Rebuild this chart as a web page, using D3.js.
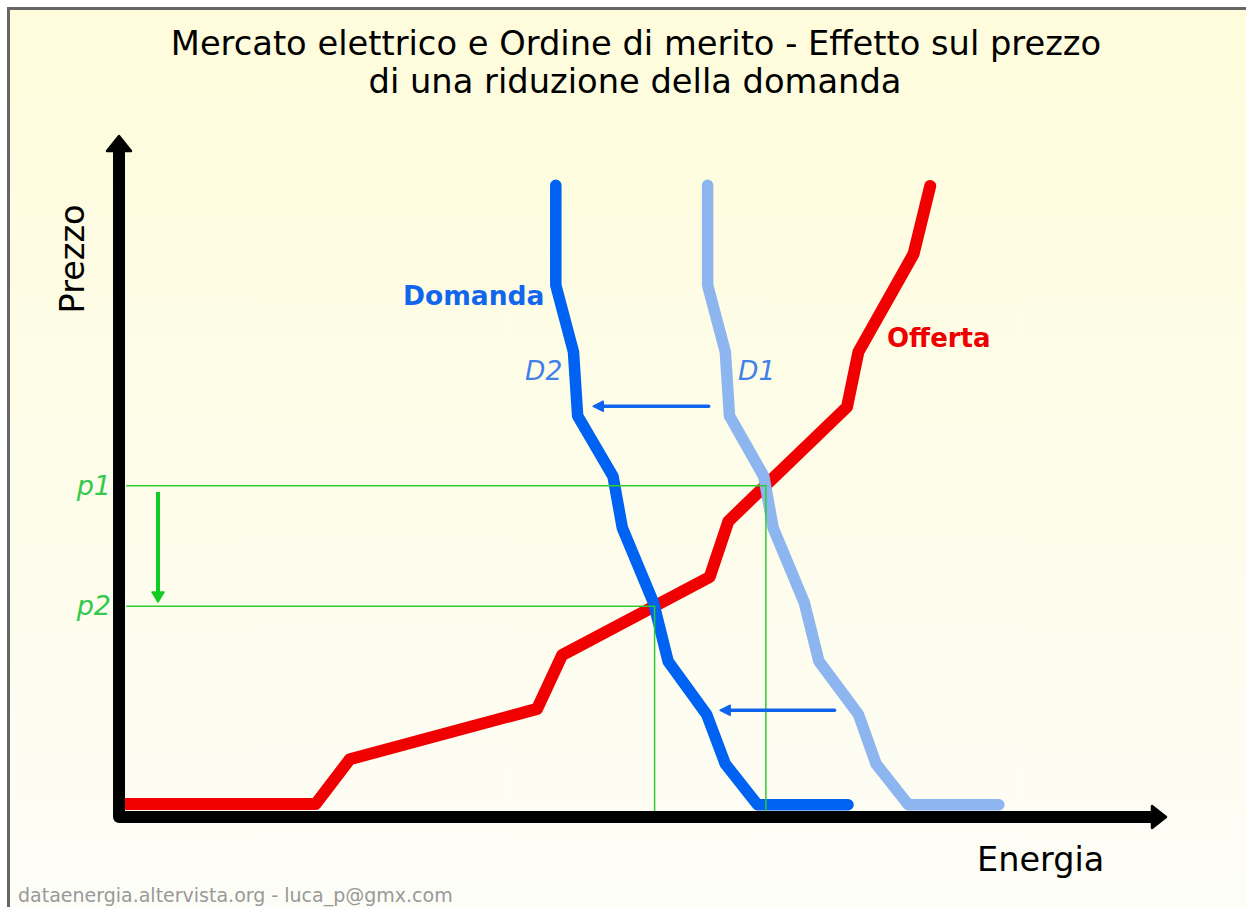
<!DOCTYPE html>
<html>
<head>
<meta charset="utf-8">
<script src="https://cdn.jsdelivr.net/npm/d3@7"></script>
<style>
  html, body { margin: 0; padding: 0; background: #ffffff; }
  svg { display: block; font-family: "DejaVu Sans", sans-serif; }
</style>
</head>
<body>
<svg id="chart" width="1246" height="907"></svg>
<script>
// Supply curve (Offerta): energy quantity and price at each bend
const offerQty   = [0.7, 18.9, 22.2, 40.2, 42.6, 56.8, 58.6, 70.0, 71.1, 76.4, 78.0];
const offerPrice = [1.9, 1.9, 8.5, 15.9, 23.8, 35.3, 43.5, 60.3, 68.4, 82.8, 92.8];

// Demand curves share the same price levels
const demandPrice = [92.9, 78.2, 68.4, 59.0, 50.1, 42.5, 31.5, 22.9, 15.1, 7.8, 1.8, 1.8];
const d1Qty       = [56.6, 56.6, 58.3, 58.7, 62.0, 62.9, 65.9, 67.3, 71.1, 72.8, 75.9, 84.6];
const d2Qty       = [42.0, 42.0, 43.7, 44.1, 47.5, 48.4, 51.4, 52.8, 56.5, 58.3, 61.4, 70.1];

// Market clearing points before (p1) and after (p2) the demand drop
const priceLabels = ["p1", "p2"];
const eqPrice     = [48.7, 31.0];
const eqQty       = [62.2, 51.5];

// Shift arrows between D1 and D2: [price, from quantity, to quantity]
const shiftPrice = [60.4, 15.7];
const shiftFrom  = [56.7, 68.8];
const shiftTo    = [45.6, 57.8];

// Price drop arrow: quantity position and price from -> to
const dropQty   = 3.75;
const dropFrom  = 47.8;
const dropTo    = 31.6;

const svg = d3.select("#chart");
const W = 1246, H = 907;

const x = d3.scaleLinear().domain([0, 100]).range([119, 1159]);
const y = d3.scaleLinear().domain([0, 100]).range([817, 137]);

// Background
const defs = svg.append("defs");
const grad = defs.append("linearGradient").attr("id", "bg").attr("x1", 0).attr("y1", 0).attr("x2", 0).attr("y2", 1);
grad.append("stop").attr("offset", "0%").attr("stop-color", "#fefcdb");
grad.append("stop").attr("offset", "100%").attr("stop-color", "#fdfdf8");
svg.append("rect").attr("x", 0).attr("y", 0).attr("width", W).attr("height", H).attr("fill", "#ffffff");
svg.append("rect").attr("x", 8.5).attr("y", 8.5).attr("width", W + 20).attr("height", H + 20)
  .attr("fill", "url(#bg)").attr("stroke", "#666666").attr("stroke-width", 3);

// Title
const title = svg.append("text").attr("text-anchor", "middle").attr("font-size", 33.7).attr("fill", "#000");
title.append("tspan").attr("x", 636).attr("y", 55).text("Mercato elettrico e Ordine di merito - Effetto sul prezzo");
title.append("tspan").attr("x", 635).attr("y", 93).text("di una riduzione della domanda");

const line = d3.line().x(d => x(d[0])).y(d => y(d[1]));

// Supply curve
svg.append("path")
  .attr("d", line(offerQty.map((q, i) => [q, offerPrice[i]])))
  .attr("fill", "none").attr("stroke", "#f00000").attr("stroke-width", 12)
  .attr("stroke-linejoin", "round").attr("stroke-linecap", "round");

// Demand curves
svg.append("path")
  .attr("d", line(d1Qty.map((q, i) => [q, demandPrice[i]])))
  .attr("fill", "none").attr("stroke", "#8db5f0").attr("stroke-width", 11.5)
  .attr("stroke-linejoin", "round").attr("stroke-linecap", "round");
svg.append("path")
  .attr("d", line(d2Qty.map((q, i) => [q, demandPrice[i]])))
  .attr("fill", "none").attr("stroke", "#0062f2").attr("stroke-width", 11.5)
  .attr("stroke-linejoin", "round").attr("stroke-linecap", "round");

// Equilibrium guide lines
eqPrice.forEach((p, i) => {
  svg.append("path")
    .attr("d", `M${x(0.7)},${y(p)} H${x(eqQty[i])} V${y(0.6)}`)
    .attr("fill", "none").attr("stroke", "#2fcc2f").attr("stroke-width", 1.5);
  svg.append("text")
    .attr("x", x(0) - 8).attr("y", y(p) + 9)
    .attr("text-anchor", "end").attr("font-size", 27).attr("font-style", "italic")
    .attr("fill", "#33c94a").text(priceLabels[i]);
});

// Price drop arrow
{
  const xa = x(dropQty), y0 = y(dropFrom), y1 = y(dropTo);
  svg.append("line").attr("x1", xa).attr("x2", xa).attr("y1", y0).attr("y2", y1 - 8)
    .attr("stroke", "#11cc22").attr("stroke-width", 4);
  svg.append("path")
    .attr("d", `M${xa - 6},${y1 - 10} L${xa + 6},${y1 - 10} L${xa},${y1} Z`)
    .attr("fill", "#11cc22").attr("stroke", "#11cc22").attr("stroke-width", 1.5).attr("stroke-linejoin", "round");
}

// Demand shift arrows
shiftPrice.forEach((p, i) => {
  const yy = y(p), xf = x(shiftFrom[i]), xt = x(shiftTo[i]);
  svg.append("line").attr("x1", xf).attr("x2", xt + 8).attr("y1", yy).attr("y2", yy)
    .attr("stroke", "#0f64ee").attr("stroke-width", 3.5).attr("stroke-linecap", "round");
  svg.append("path")
    .attr("d", `M${xt + 10},${yy - 5} L${xt + 10},${yy + 5} L${xt},${yy} Z`)
    .attr("fill", "#0f64ee").attr("stroke", "#0f64ee").attr("stroke-width", 1.5).attr("stroke-linejoin", "round");
});

// Axes with arrowheads
const x0 = x(0), yb = y(0), yTop = y(100), xEnd = x(100);
svg.append("path")
  .attr("d", `M${x0},${yTop + 14} V${yb} H${xEnd - 6}`)
  .attr("fill", "none").attr("stroke", "#000").attr("stroke-width", 12)
  .attr("stroke-linejoin", "round");
svg.append("path")
  .attr("d", `M${x0},${yTop - 1} L${x0 + 12},${yTop + 14} L${x0 - 12},${yTop + 14} Z`)
  .attr("fill", "#000").attr("stroke", "#000").attr("stroke-width", 2.5).attr("stroke-linejoin", "round");
svg.append("path")
  .attr("d", `M${xEnd + 7},${yb} L${xEnd - 7},${yb - 11} L${xEnd - 7},${yb + 11} Z`)
  .attr("fill", "#000").attr("stroke", "#000").attr("stroke-width", 2.5).attr("stroke-linejoin", "round");

// Axis titles
svg.append("text")
  .attr("transform", `translate(84,259) rotate(-90)`)
  .attr("text-anchor", "middle").attr("font-size", 33.5).attr("fill", "#000").text("Prezzo");
svg.append("text")
  .attr("x", 977).attr("y", 871).attr("font-size", 33.5).attr("fill", "#000").text("Energia");

// Curve labels
svg.append("text").attr("x", 403).attr("y", 305).attr("font-size", 26.5).attr("font-weight", "bold")
  .attr("fill", "#1166ee").text("Domanda");
svg.append("text").attr("x", 887).attr("y", 347).attr("font-size", 26).attr("font-weight", "bold")
  .attr("fill", "#ee0000").text("Offerta");
svg.append("text").attr("x", 525).attr("y", 380).attr("font-size", 26.5).attr("font-style", "italic")
  .attr("fill", "#3f80ea").text("D2");
svg.append("text").attr("x", 738).attr("y", 380).attr("font-size", 26.5).attr("font-style", "italic")
  .attr("fill", "#3f80ea").text("D1");

// Footer
svg.append("text").attr("x", 18).attr("y", 902).attr("font-size", 19).attr("fill", "#999999")
  .text("dataenergia.altervista.org - luca_p@gmx.com");
</script>
</body>
</html>
